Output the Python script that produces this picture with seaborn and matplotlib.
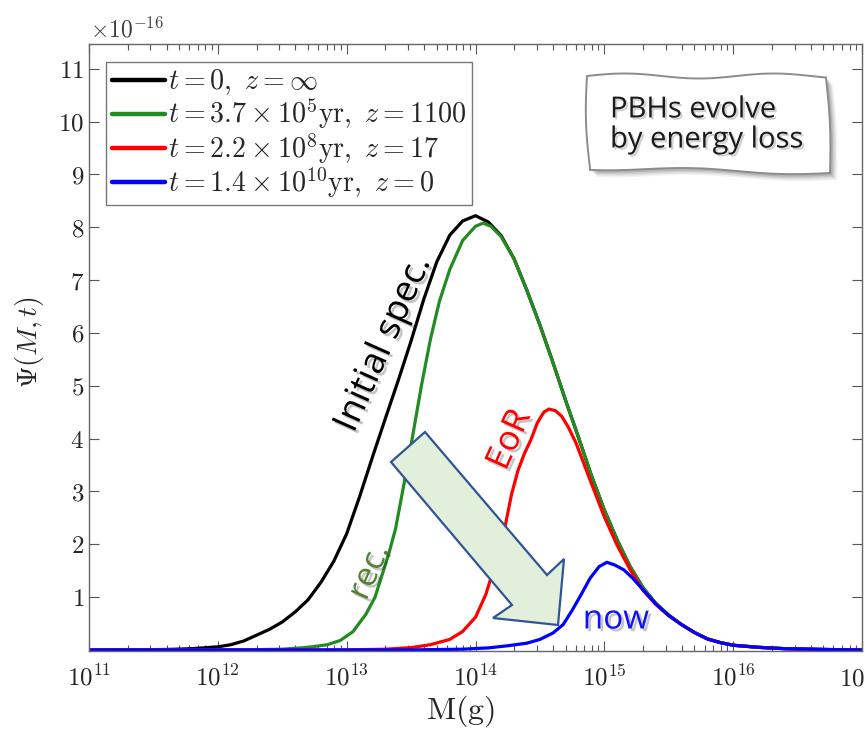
import numpy as np
import pandas as pd
import matplotlib
matplotlib.use("Agg")
import matplotlib.pyplot as plt
import matplotlib.patheffects as pe
from matplotlib.patches import Polygon
from matplotlib.ticker import FixedLocator, FixedFormatter, LogLocator, NullFormatter
import seaborn as sns

# ---------------- data ----------------
logM_t0 = [11.0, 11.3, 11.6, 11.8, 12.0, 12.1, 12.2, 12.3, 12.4, 12.5, 12.6, 12.7, 12.8,
           12.9, 13.0, 13.1, 13.2, 13.3, 13.4, 13.5, 13.6, 13.7, 13.8, 13.9, 14.0, 14.1,
           14.2, 14.3, 14.4, 14.5, 14.6, 14.7, 14.8, 14.9, 15.0, 15.1, 15.2, 15.3, 15.4,
           15.5, 15.6, 15.7, 15.8, 15.9, 16.0, 16.2, 16.4, 16.7, 17.0]
psi_t0 = [0.0, 0.002, 0.01, 0.025, 0.06, 0.1, 0.17, 0.28, 0.39, 0.53, 0.72, 0.95, 1.28,
          1.68, 2.2, 2.9, 3.65, 4.38, 5.1, 5.85, 6.65, 7.35, 7.85, 8.12, 8.22, 8.1,
          7.84, 7.4, 6.8, 6.15, 5.45, 4.72, 4.02, 3.3, 2.65, 2.08, 1.58, 1.18, 0.88,
          0.66, 0.48, 0.33, 0.21, 0.14, 0.09, 0.05, 0.025, 0.01, 0.0]

logM_rec = [11.0, 12.2, 12.5, 12.7, 12.85, 12.95, 13.05, 13.15, 13.22, 13.28, 13.33,
            13.38, 13.43, 13.48, 13.53, 13.58, 13.65, 13.72, 13.8, 13.9, 14.0, 14.06,
            14.12, 14.2, 14.3, 14.4, 14.5, 14.6, 14.7, 14.8, 14.9, 15.0, 15.1, 15.2,
            15.3, 15.4, 15.5, 15.6, 15.7, 15.8, 15.9, 16.0, 16.2, 16.4, 16.7, 17.0]
psi_rec = [0.0, 0.002, 0.015, 0.05, 0.1, 0.18, 0.35, 0.68, 1.0, 1.46, 1.85,
           2.3, 2.95, 3.6, 4.3, 5.0, 5.88, 6.6, 7.2, 7.75, 8.02, 8.08,
           8.02, 7.82, 7.4, 6.8, 6.15, 5.45, 4.72, 4.02, 3.3, 2.65, 2.08, 1.58,
           1.18, 0.88, 0.66, 0.48, 0.33, 0.21, 0.14, 0.09, 0.05, 0.025, 0.01, 0.0]

logM_eor = [11.0, 13.0, 13.3, 13.5, 13.65, 13.8, 13.9, 14.0, 14.08, 14.15, 14.22, 14.28,
            14.33, 14.38, 14.43, 14.48, 14.53, 14.57, 14.62, 14.67, 14.72, 14.78, 14.85,
            14.9, 15.0, 15.1, 15.2, 15.3, 15.4, 15.5, 15.6, 15.7, 15.8, 15.9, 16.0,
            16.2, 16.4, 16.7, 17.0]
psi_eor = [0.0, 0.002, 0.015, 0.045, 0.1, 0.2, 0.35, 0.62, 1.05, 1.6, 2.22, 2.95,
           3.4, 3.72, 3.98, 4.3, 4.5, 4.56, 4.53, 4.42, 4.22, 3.92, 3.47,
           3.15, 2.52, 1.98, 1.52, 1.13, 0.86, 0.65, 0.48, 0.33, 0.21, 0.14, 0.09,
           0.05, 0.025, 0.01, 0.0]

logM_now = [11.0, 13.5, 13.9, 14.1, 14.25, 14.4, 14.5, 14.6, 14.68, 14.75, 14.82, 14.89,
            14.96, 15.02, 15.08, 15.15, 15.22, 15.3, 15.4, 15.5, 15.6, 15.7, 15.8, 15.9,
            16.0, 16.2, 16.4, 16.7, 17.0]
psi_now = [0.0, 0.002, 0.015, 0.04, 0.08, 0.13, 0.2, 0.32, 0.48, 0.75, 1.05, 1.36,
           1.58, 1.66, 1.61, 1.52, 1.36, 1.14, 0.87, 0.65, 0.48, 0.33, 0.21, 0.14,
           0.09, 0.05, 0.025, 0.01, 0.0]

labels = [r"$t=0,\ z=\infty$",
          r"$t=3.7\times10^{5}\mathrm{yr},\ z=1100$",
          r"$t=2.2\times10^{8}\mathrm{yr},\ z=17$",
          r"$t=1.4\times10^{10}\mathrm{yr},\ z=0$"]
colors = ["#000000", "#228B22", "#FF0000", "#0000FF"]

x_ticks_exp = [11, 12, 13, 14, 15, 16, 17]
y_ticks = [1, 2, 3, 4, 5, 6, 7, 8, 9, 10, 11]

# ---------------- style ----------------
sns.set_theme(style="ticks")
plt.rcParams["font.family"] = ["DejaVu Serif"]
plt.rcParams["mathtext.fontset"] = "cm"

W, H = 865, 734
fig = plt.figure(figsize=(W / 100, H / 100), dpi=100)
fig.patch.set_facecolor("white")

def fx(px):
    return px / W

def fy(py):
    return 1 - py / H

ax = fig.add_axes([fx(89), fy(651), (862 - 89) / W, (651 - 44) / H])

series = [(logM_t0, psi_t0), (logM_rec, psi_rec), (logM_eor, psi_eor), (logM_now, psi_now)]
for (lm, ps), lab, col in zip(series, labels, colors):
    df = pd.DataFrame({"M": 10.0 ** np.array(lm), "psi": ps})
    sns.lineplot(data=df, x="M", y="psi", ax=ax, color=col, lw=2.3, label=lab,
                 estimator=None, sort=False)

ax.set_xscale("log")
ax.set_xlim(1e11, 1e17)
ax.set_ylim(-0.019, 11.47)

ax.xaxis.set_major_locator(FixedLocator([10.0 ** e for e in x_ticks_exp]))
ax.xaxis.set_major_formatter(FixedFormatter([r"$10^{%d}$" % e for e in x_ticks_exp]))
ax.xaxis.set_minor_locator(LogLocator(base=10, subs=np.arange(2, 10), numticks=20))
ax.xaxis.set_minor_formatter(NullFormatter())
ax.yaxis.set_major_locator(FixedLocator(y_ticks))
ax.yaxis.set_major_formatter(FixedFormatter([r"$%d$" % v for v in y_ticks]))

ax.tick_params(which="both", direction="in", top=True, right=True, color="#555555", width=0.8)
ax.tick_params(which="major", length=7, labelsize=18, labelcolor="#262626")
ax.tick_params(axis="x", which="major", pad=10)
ax.tick_params(which="minor", length=4)
for s in ax.spines.values():
    s.set_color("#666666")
    s.set_linewidth(1.0)

ax.set_xlabel("")
ax.set_ylabel("")
fig.text(fx(461), fy(711), r"$\mathrm{M(g)}$", fontsize=23, color="#262626",
         ha="center", va="center")
fig.text(fx(30), fy(342), r"$\Psi(M,t)$", fontsize=20, color="#262626",
         ha="center", va="center", rotation=90)

leg = ax.legend(loc="upper left", bbox_to_anchor=(0.022, 0.970), borderaxespad=0,
                fontsize=20.2, frameon=True, fancybox=False, edgecolor="#777777",
                framealpha=1, handlelength=1.9, handletextpad=0.12, borderpad=0.2,
                labelspacing=-0.02)
leg.get_frame().set_linewidth(1.0)
for h in leg.get_lines():
    h.set_linewidth(3.2)

# offset text
fig.text(fx(90), fy(30), r"$\times10^{-16}$", fontsize=17, color="#404040",
         ha="left", va="center")

# ---------------- annotations ----------------
shadow = [pe.SimplePatchShadow(offset=(2, -2), shadow_rgbFace="k", alpha=0.25), pe.Normal()]
afont = ["Open Sans", "DejaVu Sans"]

fig.text(fx(384), fy(344), "Initial spec.", rotation=66, fontsize=26, color="black",
         family=afont, ha="center", va="center", rotation_mode="anchor", path_effects=shadow)
fig.text(fx(370), fy(572), "rec.", rotation=66, fontsize=24, color="#548235",
         family=afont, ha="center", va="center", rotation_mode="anchor", path_effects=shadow)
fig.text(fx(510), fy(440), "EoR", rotation=66, fontsize=25, color="#FF0000",
         family=afont, ha="center", va="center", rotation_mode="anchor", path_effects=shadow)
fig.text(fx(616), fy(620), "now", fontsize=24, color="#1010FF",
         family=afont, ha="center", va="center", path_effects=shadow)

# block arrow
arrow_px = [(391, 462), (425, 432), (547, 575), (564, 559), (558, 625), (493, 618), (512, 605)]
arrow = Polygon([(fx(a), fy(b)) for a, b in arrow_px], closed=True, transform=fig.transFigure,
                facecolor="#e2efda", edgecolor="#2f5597", lw=1.6, zorder=5)
fig.patches.append(arrow)

# wavy note box
t = np.linspace(0, 1, 60)
top = [(587 + 239 * s, 76 - 2.5 * np.sin(2 * np.pi * 1.6 * s)) for s in t]
right = [(826 + 4 * s + 2 * np.sin(np.pi * s), 78 + 95 * s) for s in t]
bottom = [(830 - 240 * s, 173 - 5 * s + 2 * np.sin(2 * np.pi * 1.3 * s)) for s in t]
left = [(590 - 3 * s - 2.5 * np.sin(np.pi * s), 168 - 92 * s) for s in t]
box_px = top + right + bottom + left
for k, (off, al) in enumerate([(7, 0.05), (5.5, 0.07), (4, 0.09), (2.5, 0.11)]):
    sh = Polygon([(fx(a + off), fy(b + off)) for a, b in box_px], closed=True,
                 transform=fig.transFigure, facecolor="#000000", edgecolor="none",
                 alpha=al, zorder=4)
    fig.patches.append(sh)
box = Polygon([(fx(a), fy(b)) for a, b in box_px], closed=True, transform=fig.transFigure,
              facecolor="white", edgecolor="#8c8c8c", lw=1.4, zorder=5)
fig.patches.append(box)
fig.text(fx(610), fy(125), "PBHs evolve\nby energy loss", fontsize=21, color="#1a1a1a",
         family=afont, ha="left", va="center", linespacing=1.05, zorder=6,
         path_effects=[pe.SimplePatchShadow(offset=(1.5, -1.5), shadow_rgbFace="k", alpha=0.2),
                       pe.Normal()])

fig.savefig("out.png", dpi=100)
